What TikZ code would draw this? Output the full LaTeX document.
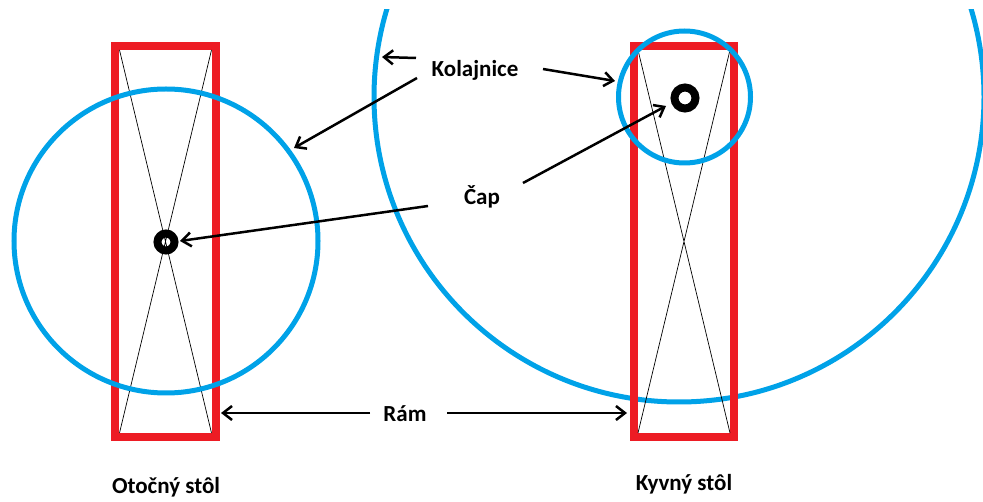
\documentclass[tikz,border=0pt]{standalone}
\usepackage{fontspec}
\setmainfont{Carlito}
\usetikzlibrary{arrows.meta}
\definecolor{pred}{RGB}{237,28,36}
\definecolor{pblue}{RGB}{0,162,232}
\begin{document}
\begin{tikzpicture}[x=1pt,y=-1pt,
  frame/.style={draw=pred,line width=8pt},
  rail/.style={draw=pblue,line width=5pt},
  diag/.style={draw=black,line width=0.7pt},
  pin/.style={draw=black,line width=8pt},
  lbl/.style={font=\fontsize{23}{25}\selectfont\bfseries,text=black,inner sep=0pt},
  arr/.style={draw=black,line width=2.5pt,-{Straight Barb[length=9pt,width=14pt]}}]
\useasboundingbox (0,0) rectangle (983,502);
% big rail (clipped at top)
\begin{scope}
\clip (0,10) rectangle (983,502);
\draw[rail] (679,97) circle (305);
\end{scope}
% frames
\draw[frame] (115,46) rectangle (215.5,437);
\draw[diag] (119.5,50) -- (211.5,433) (211.5,50) -- (119.5,433);
\draw[frame] (634,46) rectangle (734,437);
\draw[diag] (638,50) -- (730,433) (730,50) -- (638,433);
% rails
\draw[rail] (166,241) circle (152);
\draw[rail] (684.5,97) circle (66);
% pins
\draw[pin] (166,242) circle (8.5);
\draw[pin] (685,98) circle (10.5);
% labels
\node[lbl] (kol) at (475,70) {Kolajnice};
\node[lbl] (cap) at (482,197) {Čap};
\node[lbl] (ram) at (405,414) {Rám};
\node[lbl] (oto) at (166,487) {Otočný stôl};
\node[lbl] (kyv) at (684,484) {Kyvný stôl};
% arrow ends
\coordinate (k1s) at (416,58);  \coordinate (k1e) at (382,57);
\coordinate (k2s) at (417,78);  \coordinate (k2e) at (294,148);
\coordinate (k3s) at (543,69);  \coordinate (k3e) at (615,81);
\coordinate (c1s) at (523,183); \coordinate (c1e) at (666,106);
\coordinate (c2s) at (428,206); \coordinate (c2e) at (180,241);
\coordinate (r1s) at (370,413); \coordinate (r1e) at (221,413);
\coordinate (r2s) at (447,413); \coordinate (r2e) at (627,413);
\draw[arr] (k1s) -- (k1e);
\draw[arr] (k2s) -- (k2e);
\draw[arr] (k3s) -- (k3e);
\draw[arr] (c1s) -- (c1e);
\draw[arr] (c2s) -- (c2e);
\draw[arr] (r1s) -- (r1e);
\draw[arr] (r2s) -- (r2e);
\end{tikzpicture}
\end{document}
